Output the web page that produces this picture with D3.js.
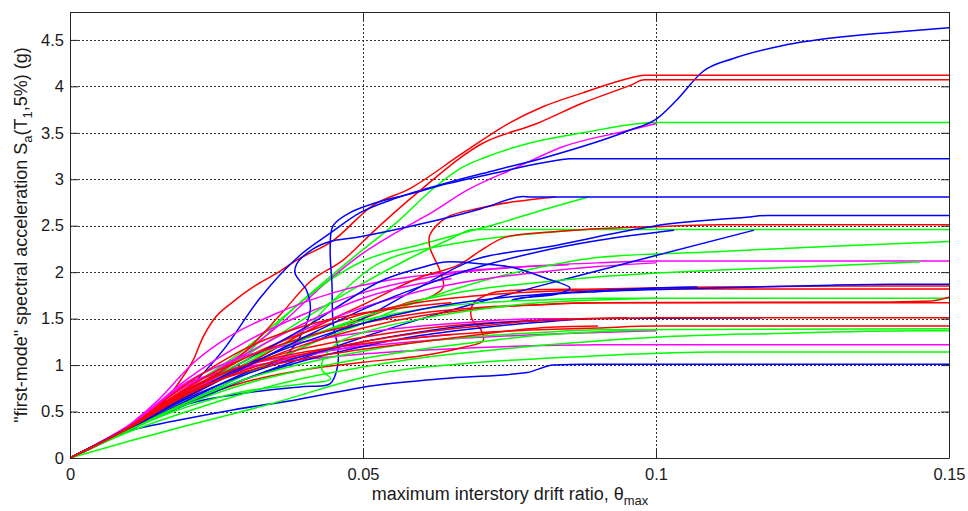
<!DOCTYPE html>
<html>
<head>
<meta charset="utf-8">
<script src="https://cdn.jsdelivr.net/npm/d3@7"></script>
<style>
  html, body { margin: 0; padding: 0; background: #fff; }
  svg { display: block; font-family: Arial, "Liberation Sans", sans-serif; }
</style>
</head>
<body>
<svg id="chart" width="968" height="511"></svg>
<script>
// Incremental dynamic analysis curves: each record is a list of
// [maximum interstory drift ratio, Sa(T1,5%) in g] points.

const driftTicks = [0, 0.05, 0.1, 0.15];
const driftTickLabels = ["0", "0.05", "0.1", "0.15"];
const saTicks = [0, 0.5, 1, 1.5, 2, 2.5, 3, 3.5, 4, 4.5];
const saTickLabels = ["0", "0.5", "1", "1.5", "2", "2.5", "3", "3.5", "4", "4.5"];

const blueRecords = [
  [[0,0],[0.01,0.32],[0.02,0.74],[0.026,1.15],[0.0324,1.72],[0.0392,2.18],[0.0444,2.42],[0.0495,2.64],[0.0558,2.8],[0.0643,2.96],[0.0728,3.1],[0.0814,3.24],[0.0956,3.53],[0.1001,3.65],[0.1035,3.85],[0.108,4.16],[0.1132,4.3],[0.1217,4.44],[0.13,4.52],[0.14,4.58],[0.15,4.63]],
  [[0,0],[0.01,0.3],[0.02,0.58],[0.03,0.7],[0.04,0.77],[0.0444,0.8],[0.0457,1.0],[0.0457,1.19],[0.0449,1.45],[0.0447,1.88],[0.0444,2.24],[0.0449,2.5],[0.0478,2.64],[0.0529,2.76],[0.058,2.84],[0.0643,2.95],[0.0728,3.07],[0.08,3.17],[0.0853,3.22],[0.088,3.22],[0.15,3.22]],
  [[0,0],[0.01,0.3],[0.02,0.62],[0.03,0.92],[0.0364,1.08],[0.0392,1.3],[0.041,1.59],[0.0404,1.8],[0.0384,1.99],[0.0387,2.09],[0.0415,2.25],[0.0444,2.33],[0.0495,2.38],[0.06,2.52],[0.07,2.68],[0.0765,2.81],[0.079,2.81],[0.15,2.81]],
  [[0,0],[0.01,0.3],[0.02,0.6],[0.03,0.9],[0.04,1.2],[0.05,1.5],[0.06,1.85],[0.0688,2.13],[0.0814,2.27],[0.0956,2.45],[0.1,2.5],[0.1155,2.59],[0.119,2.61],[0.15,2.61]],
  [[0,0],[0.01,0.3],[0.02,0.58],[0.03,0.85],[0.04,1.08],[0.05,1.3],[0.06,1.5],[0.07,1.68],[0.08,1.85],[0.0904,2.02],[0.1,2.18],[0.1166,2.45]],
  [[0,0],[0.01,0.32],[0.02,0.72],[0.03,1.05],[0.04,1.4],[0.0529,1.9],[0.06,2.05],[0.064,2.11],[0.07,2.09],[0.0756,2.05],[0.0814,1.93],[0.0853,1.83],[0.0836,1.77],[0.0768,1.72],[0.0754,1.7],[0.08,1.75],[0.09,1.79],[0.11,1.83],[0.13,1.86],[0.1405,1.87],[0.143,1.87],[0.15,1.87]],
  [[0,0],[0.01,0.3],[0.02,0.6],[0.03,0.85],[0.04,1.05],[0.05,1.2],[0.06,1.32],[0.07,1.4],[0.08,1.46],[0.09,1.5],[0.118,1.51]],
  [[0,0],[0.01,0.29],[0.018,0.4],[0.028,0.52],[0.038,0.62],[0.052,0.78],[0.065,0.86],[0.078,0.92],[0.0825,1.0],[0.088,1.01],[0.15,1.01]],
  [[0,0],[0.01,0.33],[0.02,0.68],[0.03,1.0],[0.04,1.25],[0.05,1.45],[0.06,1.6],[0.07,1.7],[0.08,1.76],[0.09,1.8],[0.1,1.83],[0.107,1.84]],
  [[0,0],[0.01,0.32],[0.02,0.66],[0.03,0.98],[0.04,1.3],[0.05,1.6],[0.06,1.85],[0.07,2.06],[0.08,2.22],[0.09,2.34],[0.103,2.45]],
  [[0,0],[0.01,0.31],[0.02,0.64],[0.03,0.9],[0.04,1.1],[0.05,1.25],[0.06,1.36],[0.07,1.44],[0.08,1.48],[0.088,1.5]]
];

const redRecords = [
  [[0,0],[0.01,0.32],[0.016,0.6],[0.019,0.85],[0.021,1.05],[0.0227,1.3],[0.0244,1.48],[0.0278,1.68],[0.0312,1.84],[0.0353,1.99],[0.0387,2.13],[0.0449,2.34],[0.0517,2.72],[0.058,2.9],[0.067,3.28],[0.0751,3.61],[0.0807,3.78],[0.0875,3.93],[0.0956,4.09],[0.098,4.12],[0.15,4.12]],
  [[0,0],[0.01,0.32],[0.02,0.7],[0.03,1.15],[0.036,1.55],[0.041,1.9],[0.0466,2.13],[0.052,2.45],[0.0592,2.85],[0.0705,3.39],[0.0797,3.6],[0.0875,3.82],[0.0956,4.01],[0.098,4.07],[0.15,4.07]],
  [[0,0],[0.01,0.31],[0.02,0.65],[0.03,0.98],[0.04,1.28],[0.05,1.5],[0.058,1.68],[0.0614,1.73],[0.0637,1.84],[0.0631,2.02],[0.0614,2.27],[0.0614,2.4],[0.0643,2.59],[0.07,2.69],[0.076,2.76],[0.0828,2.81]],
  [[0,0],[0.01,0.32],[0.02,0.66],[0.03,1.0],[0.04,1.35],[0.05,1.65],[0.06,1.95],[0.067,2.1],[0.07,2.23],[0.0745,2.38],[0.0814,2.43],[0.088,2.46],[0.1,2.49],[0.111,2.51],[0.15,2.51]],
  [[0,0],[0.01,0.3],[0.02,0.6],[0.03,0.82],[0.04,0.95],[0.05,1.03],[0.06,1.1],[0.067,1.19],[0.0705,1.26],[0.0702,1.37],[0.0685,1.51],[0.0688,1.66],[0.0717,1.77],[0.0745,1.8],[0.09,1.82],[0.11,1.84],[0.13,1.85],[0.15,1.85]],
  [[0,0],[0.01,0.33],[0.02,0.72],[0.03,1.08],[0.04,1.35],[0.05,1.55],[0.06,1.68],[0.07,1.75],[0.08,1.79],[0.09,1.81],[0.1,1.82],[0.15,1.82]],
  [[0,0],[0.01,0.32],[0.02,0.7],[0.03,0.98],[0.04,1.22],[0.05,1.4],[0.06,1.53],[0.07,1.61],[0.08,1.65],[0.09,1.67],[0.14,1.68],[0.147,1.69],[0.15,1.73]],
  [[0,0],[0.01,0.33],[0.02,0.76],[0.03,1.08],[0.04,1.3],[0.05,1.45],[0.06,1.56],[0.07,1.62],[0.08,1.65],[0.09,1.67],[0.15,1.67]],
  [[0,0],[0.01,0.32],[0.02,0.72],[0.03,1.0],[0.04,1.18],[0.05,1.3],[0.06,1.39],[0.07,1.45],[0.08,1.48],[0.09,1.5],[0.1,1.51],[0.15,1.51]],
  [[0,0],[0.01,0.33],[0.02,0.74],[0.03,1.0],[0.04,1.14],[0.05,1.23],[0.06,1.3],[0.07,1.35],[0.08,1.38],[0.09,1.4],[0.1,1.42],[0.15,1.42]],
  [[0,0],[0.01,0.33],[0.02,0.8],[0.03,1.18],[0.04,1.42],[0.05,1.56],[0.06,1.64],[0.065,1.67]],
  [[0,0],[0.01,0.32],[0.02,0.68],[0.03,0.95],[0.04,1.12],[0.05,1.25],[0.06,1.35],[0.07,1.42],[0.08,1.48],[0.095,1.51]],
  [[0,0],[0.01,0.32],[0.02,0.7],[0.03,0.93],[0.04,1.07],[0.05,1.17],[0.06,1.25],[0.07,1.33],[0.08,1.4],[0.09,1.42]]
];

const greenRecords = [
  [[0,0],[0.01,0.31],[0.02,0.7],[0.03,1.12],[0.038,1.6],[0.0478,2.13],[0.056,2.55],[0.062,2.9],[0.067,3.13],[0.071,3.24],[0.0785,3.39],[0.0875,3.5],[0.1,3.61],[0.15,3.61]],
  [[0,0],[0.01,0.33],[0.02,0.75],[0.03,1.18],[0.037,1.55],[0.044,1.9],[0.05,2.12],[0.06,2.3],[0.067,2.42],[0.0734,2.53],[0.0807,2.67],[0.0885,2.81]],
  [[0,0],[0.01,0.32],[0.02,0.72],[0.03,1.1],[0.04,1.5],[0.05,1.88],[0.058,2.15],[0.065,2.36],[0.0688,2.46],[0.15,2.46]],
  [[0,0],[0.01,0.31],[0.02,0.68],[0.03,1.02],[0.04,1.38],[0.045,1.7],[0.0529,2.1],[0.065,2.3],[0.08,2.42],[0.088,2.46]],
  [[0,0],[0.01,0.3],[0.02,0.6],[0.03,0.9],[0.04,1.2],[0.05,1.45],[0.06,1.7],[0.07,1.9],[0.08,2.05],[0.0904,2.16],[0.11,2.22],[0.13,2.28],[0.15,2.33]],
  [[0,0],[0.01,0.31],[0.02,0.66],[0.03,0.98],[0.04,1.28],[0.05,1.52],[0.06,1.7],[0.07,1.82],[0.08,1.89],[0.0904,1.95],[0.11,2.02],[0.13,2.07],[0.145,2.11]],
  [[0,0],[0.01,0.32],[0.02,0.7],[0.03,1.05],[0.04,1.3],[0.05,1.48],[0.06,1.6],[0.07,1.67],[0.08,1.7],[0.09,1.72],[0.15,1.72]],
  [[0,0],[0.01,0.3],[0.02,0.6],[0.03,0.85],[0.04,1.02],[0.05,1.15],[0.06,1.25],[0.07,1.31],[0.08,1.35],[0.09,1.38],[0.15,1.39]],
  [[0,0],[0.01,0.28],[0.02,0.5],[0.03,0.7],[0.04,0.86],[0.05,0.98],[0.06,1.08],[0.07,1.15],[0.08,1.21],[0.09,1.26],[0.1,1.3],[0.12,1.34],[0.145,1.37],[0.15,1.37]],
  [[0,0],[0.01,0.18],[0.02,0.35],[0.0324,0.55],[0.0546,0.93],[0.07,1.03],[0.09,1.1],[0.11,1.14],[0.15,1.14]],
  [[0,0],[0.01,0.3],[0.02,0.55],[0.03,0.72],[0.04,0.8],[0.0445,0.85],[0.043,0.95],[0.0435,1.1],[0.046,1.25],[0.05,1.35],[0.06,1.5],[0.07,1.6],[0.08,1.67],[0.09,1.7],[0.1,1.72]],
  [[0,0],[0.01,0.3],[0.02,0.58],[0.03,0.8],[0.04,0.95],[0.05,1.07],[0.06,1.17],[0.07,1.25],[0.08,1.32],[0.09,1.36],[0.1,1.38]]
];

const magentaRecords = [
  [[0,0],[0.01,0.33],[0.02,0.75],[0.03,1.15],[0.037,1.5],[0.043,1.85],[0.049,2.16],[0.0563,2.45],[0.0614,2.63],[0.0677,2.88],[0.0763,3.13],[0.0841,3.35],[0.0956,3.53],[0.1,3.6]],
  [[0,0],[0.01,0.34],[0.02,0.85],[0.03,1.25],[0.04,1.55],[0.05,1.78],[0.06,1.93],[0.07,2.02],[0.08,2.07],[0.09,2.1],[0.1,2.12],[0.15,2.12]],
  [[0,0],[0.01,0.34],[0.02,0.8],[0.03,0.98],[0.04,1.06],[0.05,1.12],[0.06,1.16],[0.07,1.19],[0.08,1.21],[0.09,1.22],[0.15,1.22]],
  [[0,0],[0.01,0.35],[0.015,0.62],[0.021,1.02],[0.027,1.3],[0.035,1.55],[0.045,1.78],[0.055,1.92],[0.065,2.0],[0.075,2.05],[0.085,2.08]],
  [[0,0],[0.01,0.33],[0.02,0.7],[0.03,1.05],[0.04,1.38],[0.05,1.62],[0.06,1.8],[0.07,1.92],[0.08,2.0],[0.09,2.06],[0.1,2.1]],
  [[0,0],[0.01,0.34],[0.02,0.78],[0.03,1.0],[0.04,1.12],[0.05,1.2],[0.06,1.26],[0.07,1.3],[0.08,1.33],[0.09,1.35],[0.1,1.37]],
  [[0,0],[0.01,0.35],[0.02,0.82],[0.03,1.1],[0.04,1.25],[0.05,1.35],[0.06,1.42],[0.07,1.47],[0.08,1.5],[0.085,1.5]],
  [[0,0],[0.01,0.34],[0.02,0.75],[0.03,1.12],[0.04,1.45],[0.05,1.72],[0.06,1.88],[0.065,1.93]],
  [[0,0],[0.01,0.33],[0.02,0.72],[0.03,0.96],[0.04,1.1],[0.05,1.22],[0.06,1.3],[0.065,1.33]]
];

const groupColors = { green: "#00ff00", magenta: "#ff00ff", red: "#ff0000", blue: "#0000ff" };

// ---- layout ----
const svg = d3.select("#chart");
const plot = { left: 70, right: 949, top: 12, bottom: 458 };

const x = d3.scaleLinear().domain([0, 0.15]).range([plot.left, plot.right]);
const y = d3.scaleLinear().domain([0, 4.8]).range([plot.bottom, plot.top]);

svg.append("defs").append("clipPath").attr("id", "plot-clip")
  .append("rect")
  .attr("x", plot.left).attr("y", plot.top)
  .attr("width", plot.right - plot.left).attr("height", plot.bottom - plot.top);

// dotted grid
const grid = svg.append("g").attr("stroke", "#333").attr("stroke-width", 1)
  .attr("stroke-dasharray", "2,2").attr("shape-rendering", "crispEdges");
grid.selectAll("line.h").data(saTicks.filter(d => d > 0)).join("line")
  .attr("x1", plot.left).attr("x2", plot.right)
  .attr("y1", d => Math.round(y(d)) + 0.5).attr("y2", d => Math.round(y(d)) + 0.5);
grid.selectAll("line.v").data(driftTicks.filter(d => d > 0 && d < 0.15)).join("line")
  .attr("y1", plot.top).attr("y2", plot.bottom)
  .attr("x1", d => Math.round(x(d)) + 0.5).attr("x2", d => Math.round(x(d)) + 0.5);

// records, interleaved by colour group; monotone records get a
// monotone spline (no overshoot at the flatline), looping ones Catmull-Rom
const smoothLine = d3.line().x(d => x(d[0])).y(d => y(d[1])).curve(d3.curveMonotoneX);
const loopLine = d3.line().x(d => x(d[0])).y(d => y(d[1])).curve(d3.curveCatmullRom.alpha(0.5));
const isMonotone = pts => pts.every((p, i) => i === 0 || p[0] > pts[i - 1][0]);

const groups = [
  ["green", greenRecords], ["magenta", magentaRecords],
  ["red", redRecords], ["blue", blueRecords]
];
const ordered = [];
const maxLen = d3.max(groups, g => g[1].length);
for (let i = 0; i < maxLen; i++) {
  groups.forEach(([name, recs]) => { if (recs[i]) ordered.push({ color: groupColors[name], pts: recs[i] }); });
}

svg.append("g").attr("clip-path", "url(#plot-clip)")
  .selectAll("path").data(ordered).join("path")
  .attr("d", d => (isMonotone(d.pts) ? smoothLine : loopLine)(d.pts))
  .attr("fill", "none")
  .attr("stroke", d => d.color)
  .attr("stroke-width", 1.5)
  .attr("stroke-linejoin", "round")
  .attr("stroke-linecap", "round");

// axes with inward ticks on all four sides
const tickLen = 8;
const axisColor = "#262626";
const fmtSa = d => saTickLabels[saTicks.indexOf(d)];
const fmtDrift = d => driftTickLabels[driftTicks.indexOf(d)];

const bottomAxis = d3.axisBottom(x).tickValues(driftTicks).tickFormat(fmtDrift)
  .tickSizeInner(-tickLen).tickSizeOuter(0).tickPadding(10);
const topAxis = d3.axisTop(x).tickValues(driftTicks).tickFormat("")
  .tickSizeInner(-tickLen).tickSizeOuter(0);
const leftAxis = d3.axisLeft(y).tickValues(saTicks).tickFormat(fmtSa)
  .tickSizeInner(-tickLen).tickSizeOuter(0).tickPadding(6);
const rightAxis = d3.axisRight(y).tickValues(saTicks).tickFormat("")
  .tickSizeInner(-tickLen).tickSizeOuter(0);

function styleAxis(g) {
  g.select(".domain").attr("stroke", axisColor).attr("stroke-width", 1);
  g.selectAll(".tick line").attr("stroke", axisColor);
  g.selectAll(".tick text").attr("fill", "#1a1a1a")
    .style("font-family", "Arial, 'Liberation Sans', sans-serif").style("font-size", "16.5px");
}

svg.append("g").attr("transform", `translate(0,${plot.bottom})`).call(bottomAxis).call(styleAxis);
svg.append("g").attr("transform", `translate(0,${plot.top})`).call(topAxis).call(styleAxis);
svg.append("g").attr("transform", `translate(${plot.left},0)`).call(leftAxis).call(styleAxis);
svg.append("g").attr("transform", `translate(${plot.right},0)`).call(rightAxis).call(styleAxis);

// axis titles
const xTitle = svg.append("text")
  .attr("x", 510).attr("y", 500)
  .attr("text-anchor", "middle")
  .attr("fill", "#1a1a1a")
  .style("font-size", "18px");
xTitle.append("tspan").text("maximum interstory drift ratio, \u03b8");
xTitle.append("tspan").attr("dy", 5).style("font-size", "13px").text("max");

const yTitle = svg.append("text")
  .attr("transform", `translate(27,${(plot.top + plot.bottom) / 2}) rotate(-90)`)
  .attr("text-anchor", "middle")
  .attr("fill", "#1a1a1a")
  .style("font-size", "18px");
yTitle.append("tspan").text("\"first-mode\" spectral acceleration S");
yTitle.append("tspan").attr("dy", 5).style("font-size", "13px").text("a");
yTitle.append("tspan").attr("dy", -5).text("(T");
yTitle.append("tspan").attr("dy", 5).style("font-size", "13px").text("1");
yTitle.append("tspan").attr("dy", -5).text(",5%) (g)");
</script>
</body>
</html>
